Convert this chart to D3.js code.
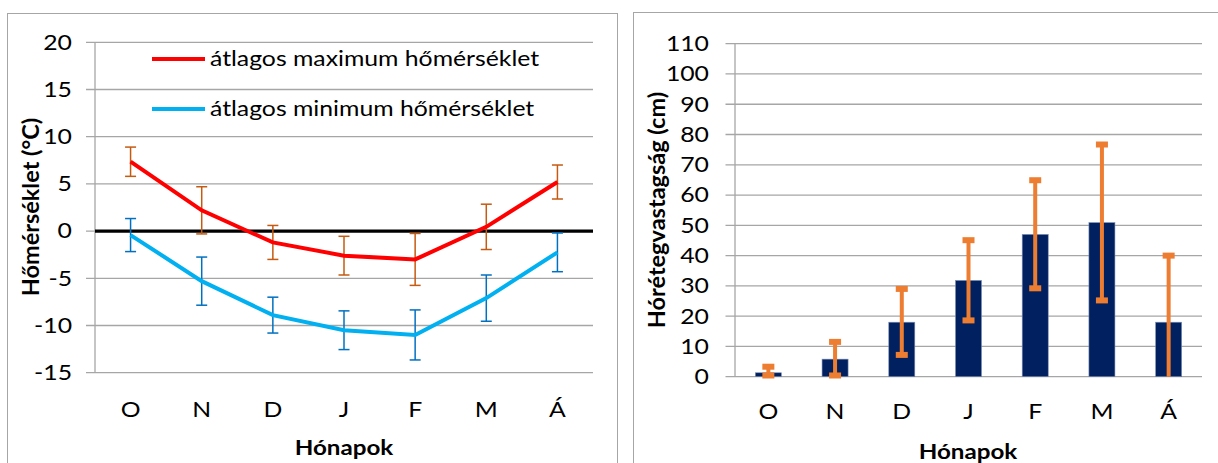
<!DOCTYPE html>
<html>
<head>
<meta charset="utf-8">
<script src="https://cdn.jsdelivr.net/npm/d3@7"></script>
<style>
  body { margin: 0; background: #fff; }
  text { font-family: Lato, "Open Sans", sans-serif; fill: #000; }
</style>
</head>
<body>
<script>
// data
var months = ["O", "N", "D", "J", "F", "M", "Á"];

var tMax    = [7.35, 2.2, -1.2, -2.6, -3.0, 0.45, 5.2];
var tMaxErr = [1.55, 2.5, 1.8, 2.05, 2.75, 2.4, 1.8];
var tMin    = [-0.42, -5.3, -8.9, -10.5, -11.0, -7.1, -2.25];
var tMinErr = [1.75, 2.55, 1.9, 2.05, 2.65, 2.45, 2.05];
var tempTicks = [20, 15, 10, 5, 0, -5, -10, -15];

var snow     = [1.3, 5.8, 18, 31.8, 47, 50.9, 18];
var snowLow  = [0.4, 0.4, 7.2, 18.6, 29.2, 25.2, 0];
var snowHigh = [3.3, 11.5, 29, 45.1, 64.9, 76.7, 40];
var snowTicks = [0, 10, 20, 30, 40, 50, 60, 70, 80, 90, 100, 110];

var legendLabels = ["átlagos maximum hőmérséklet", "átlagos minimum hőmérséklet"];

var W = 1218, H = 463;
var grid = "#a6a6a6";
var sx = 1.18; // the source text is a bit wider than tall

var svg = d3.select("body").append("svg")
    .attr("width", W)
    .attr("height", H);

// places a text at (x,y), stretched a little on x
function place(x, y) {
  return "translate(" + x + "," + y + ") scale(" + sx + ",1)";
}

// panel frames
svg.append("rect").attr("x", 7.5).attr("y", 13.5).attr("width", 610).attr("height", 470)
    .attr("fill", "none").attr("stroke", "#a6a6a6");
svg.append("rect").attr("x", 633.5).attr("y", 12.5).attr("width", 600).attr("height", 470)
    .attr("fill", "none").attr("stroke", "#a6a6a6");

// ---------- left chart: temperatures ----------
var x1 = d3.scaleBand().domain(months).range([95, 593]);
var y1 = d3.scaleLinear().domain([-15, 20]).range([372.7, 42.3]);

var g1 = svg.append("g");

g1.selectAll("line.grid").data(tempTicks).enter().append("line")
    .attr("class", "grid")
    .attr("x1", 86).attr("x2", 593)
    .attr("y1", function(d) { return y1(d); })
    .attr("y2", function(d) { return y1(d); })
    .attr("stroke", grid).attr("stroke-width", 1.3);

g1.append("line")
    .attr("x1", 95).attr("x2", 95)
    .attr("y1", y1(20)).attr("y2", y1(-15))
    .attr("stroke", grid).attr("stroke-width", 1.3);

g1.selectAll("text.ytick").data(tempTicks).enter().append("text")
    .attr("class", "ytick")
    .attr("transform", function(d) { return place(72, y1(d)); })
    .attr("dy", "0.35em")
    .attr("text-anchor", "end")
    .style("font-size", "21px")
    .text(function(d) { return d; });

g1.selectAll("text.xtick").data(months).enter().append("text")
    .attr("class", "xtick")
    .attr("transform", function(d) { return place(x1(d) + x1.bandwidth() / 2, 410); })
    .attr("dy", "0.35em")
    .attr("text-anchor", "middle")
    .style("font-size", "21px")
    .text(function(d) { return d; });

// zero line
g1.append("line")
    .attr("x1", 95).attr("x2", 593)
    .attr("y1", y1(0)).attr("y2", y1(0))
    .attr("stroke", "#000").attr("stroke-width", 3.3);

function errBars(g, vals, errs, color) {
  var sel = g.selectAll(null).data(vals).enter().append("g")
      .attr("stroke", color).attr("stroke-width", 1.5);
  sel.append("line")
      .attr("x1", function(d, i) { return x1(months[i]) + x1.bandwidth() / 2; })
      .attr("x2", function(d, i) { return x1(months[i]) + x1.bandwidth() / 2; })
      .attr("y1", function(d, i) { return y1(d + errs[i]); })
      .attr("y2", function(d, i) { return y1(d - errs[i]); });
  [1, -1].forEach(function(s) {
    sel.append("line")
        .attr("x1", function(d, i) { return x1(months[i]) + x1.bandwidth() / 2 - 5.5; })
        .attr("x2", function(d, i) { return x1(months[i]) + x1.bandwidth() / 2 + 5.5; })
        .attr("y1", function(d, i) { return y1(d + s * errs[i]); })
        .attr("y2", function(d, i) { return y1(d + s * errs[i]); });
  });
}
errBars(g1, tMax, tMaxErr, "#c55a11");
errBars(g1, tMin, tMinErr, "#0070c0");

var line1 = d3.line()
    .x(function(d, i) { return x1(months[i]) + x1.bandwidth() / 2; })
    .y(function(d) { return y1(d); });

g1.append("path").datum(tMax).attr("d", line1)
    .attr("fill", "none").attr("stroke", "#ff0000").attr("stroke-width", 4);
g1.append("path").datum(tMin).attr("d", line1)
    .attr("fill", "none").attr("stroke", "#00b0f0").attr("stroke-width", 4);

// legend
var legColors = ["#ff0000", "#00b0f0"];
var leg = g1.selectAll("g.leg").data(legendLabels).enter().append("g")
    .attr("class", "leg")
    .attr("transform", function(d, i) { return "translate(152," + (59 + i * 50) + ")"; });
leg.append("line").attr("x1", 0).attr("x2", 53)
    .attr("stroke", function(d, i) { return legColors[i]; }).attr("stroke-width", 4);
leg.append("text").attr("transform", place(58, 0)).attr("dy", "0.35em")
    .style("font-size", "21px")
    .text(function(d) { return d; });

g1.append("text")
    .attr("transform", place(344, 448))
    .attr("dy", "0.35em")
    .attr("text-anchor", "middle")
    .style("font-size", "20.5px").style("font-weight", "bold")
    .text("Hónapok");

g1.append("text")
    .attr("transform", "translate(31,207) rotate(-90)")
    .attr("dy", "0.35em")
    .attr("text-anchor", "middle")
    .style("font-size", "23.5px").style("font-weight", "bold")
    .text("Hőmérséklet (°C)");

// ---------- right chart: snow depth ----------
var x2 = d3.scaleBand().domain(months).range([735, 1202]).paddingInner(0.61).paddingOuter(0.305);
var xc = d3.scaleBand().domain(months).range([735, 1202]);
var y2 = d3.scaleLinear().domain([0, 110]).range([376.7, 43.7]);

var g2 = svg.append("g");

g2.selectAll("line.grid").data(snowTicks).enter().append("line")
    .attr("class", "grid")
    .attr("x1", 725.5).attr("x2", 1202)
    .attr("y1", function(d) { return y2(d); })
    .attr("y2", function(d) { return y2(d); })
    .attr("stroke", grid).attr("stroke-width", 1.3);

g2.append("line")
    .attr("x1", 735).attr("x2", 735)
    .attr("y1", y2(110)).attr("y2", y2(0))
    .attr("stroke", grid).attr("stroke-width", 1.3);

g2.selectAll("text.ytick").data(snowTicks).enter().append("text")
    .attr("class", "ytick")
    .attr("transform", function(d) { return place(709, y2(d)); })
    .attr("dy", "0.35em")
    .attr("text-anchor", "end")
    .style("font-size", "21px")
    .text(function(d) { return d; });

g2.selectAll("text.xtick").data(months).enter().append("text")
    .attr("class", "xtick")
    .attr("transform", function(d) { return place(xc(d) + xc.bandwidth() / 2, 412); })
    .attr("dy", "0.35em")
    .attr("text-anchor", "middle")
    .style("font-size", "21px")
    .text(function(d) { return d; });

g2.selectAll("rect.bar").data(snow).enter().append("rect")
    .attr("class", "bar")
    .attr("x", function(d, i) { return x2(months[i]); })
    .attr("width", x2.bandwidth())
    .attr("y", function(d) { return y2(d); })
    .attr("height", function(d) { return y2(0) - y2(d); })
    .attr("fill", "#002060")
    .attr("stroke", "#7f8fb0").attr("stroke-width", 0.6);

var orange = "#ed7d31";
var eb = g2.selectAll("g.eb").data(months).enter().append("g").attr("class", "eb");
eb.append("line")
    .attr("x1", function(d) { return xc(d) + xc.bandwidth() / 2; })
    .attr("x2", function(d) { return xc(d) + xc.bandwidth() / 2; })
    .attr("y1", function(d, i) { return y2(snowHigh[i]); })
    .attr("y2", function(d, i) { return y2(snowLow[i]); })
    .attr("stroke", orange).attr("stroke-width", 4);
eb.append("rect")
    .attr("x", function(d) { return xc(d) + xc.bandwidth() / 2 - 6; })
    .attr("y", function(d, i) { return y2(snowHigh[i]) - 3; })
    .attr("width", 12).attr("height", 6)
    .attr("fill", orange);
eb.append("rect")
    .attr("x", function(d) { return xc(d) + xc.bandwidth() / 2 - 6; })
    .attr("y", function(d, i) { return y2(snowLow[i]) - 3; })
    .attr("width", 12).attr("height", 6)
    .attr("fill", orange)
    .attr("display", function(d, i) { return snowLow[i] > 0 ? null : "none"; });

g2.append("text")
    .attr("transform", place(968, 452))
    .attr("dy", "0.35em")
    .attr("text-anchor", "middle")
    .style("font-size", "20.5px").style("font-weight", "bold")
    .text("Hónapok");

g2.append("text")
    .attr("transform", "translate(657,210) rotate(-90)")
    .attr("dy", "0.35em")
    .attr("text-anchor", "middle")
    .style("font-size", "23.5px").style("font-weight", "bold")
    .text("Hórétegvastagság (cm)");
</script>
</body>
</html>
